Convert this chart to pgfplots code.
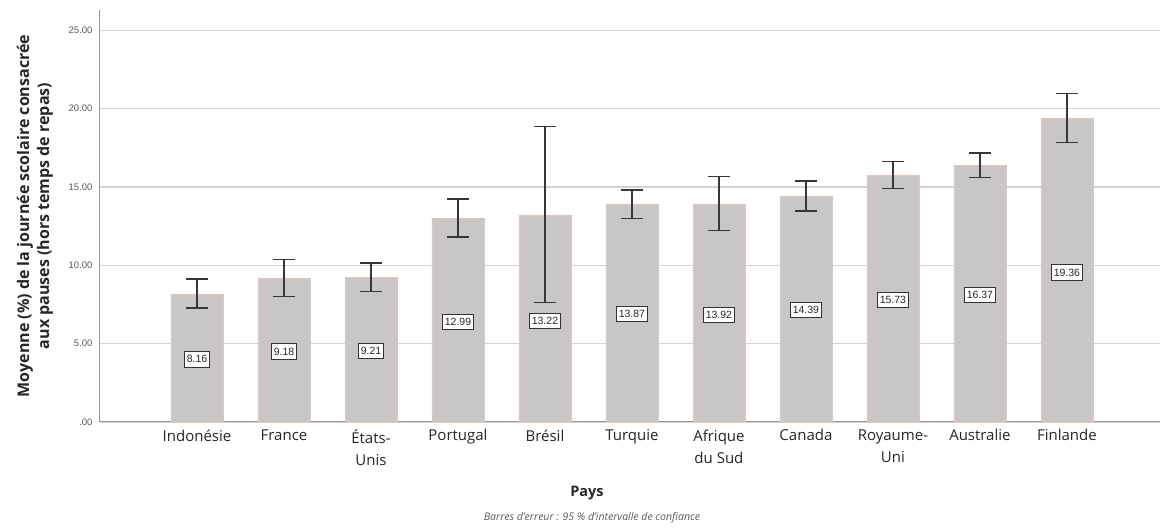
\documentclass[border=0pt]{standalone}
\usepackage{pgfplots}
\pgfplotsset{compat=1.18}
\usepackage{pgfplotstable}
\usepackage{fontspec}
\setmainfont{Open Sans}
\newfontfamily\arial{Liberation Sans}
\definecolor{barfill}{RGB}{200,198,198}
\definecolor{baredge}{RGB}{222,200,188}
\definecolor{gridc}{RGB}{212,212,212}
\definecolor{axc}{RGB}{150,150,150}
\definecolor{errc}{RGB}{55,55,55}
\pgfplotstableread{
x y ep em ly
0 8.16 0.97 0.88 4.00
1 9.18 1.21 1.15 4.50
2 9.21 0.94 0.87 4.55
3 12.99 1.25 1.18 6.40
4 13.22 5.64 5.58 6.45
5 13.87 0.94 0.89 6.90
6 13.92 1.74 1.70 6.85
7 14.39 1.00 0.92 7.15
8 15.73 0.89 0.81 7.80
9 16.37 0.81 0.75 8.10
10 19.36 1.60 1.53 9.55
}\datatable
\begin{document}
\begin{tikzpicture}
\begin{axis}[
  at={(0,0)}, anchor=south west,
  scale only axis, width=1060pt, height=412pt,
  xmin=-1.115, xmax=11.07, ymin=0, ymax=26.3,
  axis x line*=bottom, axis y line*=left,
  axis line style={axc, line width=1pt},
  major tick length=0pt,
  ytick={0,5,10,15,20,25},
  yticklabels={.00,5.00,10.00,15.00,20.00,25.00},
  yticklabel style={font=\arial\fontsize{9.5}{9.5}\selectfont, text=black!65, xshift=-4pt},
  xtick={0,1,2,3,4,5,6,7,8,9,10},
  xticklabels={Indonésie,France,États-\\Unis,Portugal,Brésil,Turquie,Afrique\\du Sud,Canada,Royaume-\\Uni,Australie,Finlande},
  xticklabel style={font=\fontsize{15}{22}\selectfont, align=center, text=black!85, anchor=north, yshift=-4pt},
  ymajorgrids, grid style={gridc, line width=1.2pt},
  clip=false,
]
\addplot[ybar, bar width=52pt, fill=barfill, draw=baredge, line width=0.6pt,
  error bars/.cd, y dir=both, y explicit, error mark=|,
  error bar style={errc, line width=1.4pt},
  error mark options={errc, line width=1.4pt, mark size=11pt}]
  table[x=x, y=y, y error plus=ep, y error minus=em] {\datatable};
\addplot[only marks, mark=none, point meta=explicit symbolic,
  nodes near coords,
  nodes near coords style={anchor=center, draw=black!80, fill=white, line width=0.9pt,
    inner xsep=2.5pt, inner ysep=4pt, font=\arial\fontsize{10.5}{10.5}\selectfont, text=black!85}]
  table[x=x, y=ly, meta=y] {\datatable};
\end{axis}
\node[rotate=90, align=center, font=\bfseries\fontsize{16}{20}\selectfont, text=black!85] at (-65pt,206pt)
  {Moyenne (\%) de la journée scolaire consacrée\\aux pauses (hors temps de repas)};
\node[font=\bfseries\fontsize{14.5}{14.5}\selectfont, text=black!85] at (487pt,-71pt) {Pays};
\node[font=\itshape\fontsize{10.5}{10.5}\selectfont, text=black!65] at (492pt,-96pt)
  {Barres d’erreur : 95 \% d’intervalle de confiance};
\pgfresetboundingbox
\path (-100pt,-110pt) rectangle (1060pt,422pt);
\end{tikzpicture}
\end{document}
